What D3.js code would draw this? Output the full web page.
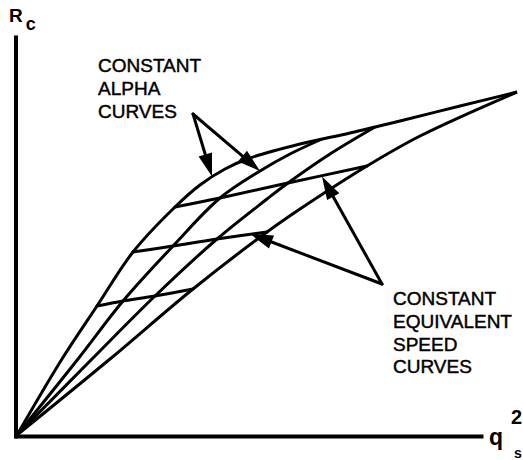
<!DOCTYPE html>
<html>
<head>
<meta charset="utf-8">
<script src="https://cdn.jsdelivr.net/npm/d3@7/dist/d3.min.js"></script>
<style>
  html, body { margin: 0; padding: 0; background: #fff; }
  svg { display: block; }
  text { font-family: "Liberation Sans", Arial, Helvetica, sans-serif; fill: #000; }
</style>
</head>
<body>
<script>
// R_c versus q_s^2 in arbitrary units (0-100 on both axes)

// Constant alpha curves, all starting at the origin
const alphaCurve1 = [[0,0],[9,19],[16,32.25],[23.2,45.75],[31.6,57],[36.6,62.5],[41.6,66.5],[46.6,69.25],[56.6,72.75],[66.6,75.5],[76.6,78.5],[88.6,82.25],[100,85.75]];
const alphaCurve2 = [[0,0],[12.2,19],[21.2,33.5],[31.2,47.25],[40.6,59.25],[48.6,66],[54.6,70.25],[61,74]];
const alphaCurve3 = [[0,0],[15,19],[27.6,34.75],[40,49],[50,59],[54.2,63],[62.6,70.25],[71.6,77]];
const alphaCurve4 = [[0,0],[18.6,19],[35.2,36.5],[50,50.75],[56.6,56.5],[70,67.25],[80.6,74.75],[100,85.75]];
const alphaCurves = [alphaCurve1, alphaCurve2, alphaCurve3, alphaCurve4];

// Constant equivalent speed curves, crossing the alpha curves
const speedCurve1 = [[31.6,57],[40.6,59.25],[54.2,63],[70,67.25]];
const speedCurve2 = [[23.2,45.75],[31.2,47.25],[40,49],[50,50.75]];
const speedCurve3 = [[16,32.25],[21.2,33.5],[27.6,34.75],[35.2,36.5]];
const speedCurves = [speedCurve1, speedCurve2, speedCurve3];

// Callout labels and their pointer arrows
const alphaLabel = ["CONSTANT", "ALPHA", "CURVES"];
const alphaLabelAt = [16.2, 90.75];
const alphaArrowFrom = [35.2, 80.25];
const alphaArrowTo = [[39, 64.6], [48.6, 66]];

const speedLabel = ["CONSTANT", "EQUIVALENT", "SPEED", "CURVES"];
const speedLabelAt = [75.2, 32.5];
const speedArrowFrom = [73, 37.75];
const speedArrowTo = [[61, 64.6], [46.6, 50.3]];

const xAxisMax = 93.2;
const yAxisMax = 100;

const width = 523, height = 460;
const svg = d3.select("body").append("svg")
  .attr("width", width).attr("height", height);

const x = d3.scaleLinear().domain([0, 100]).range([17, 517]);
const y = d3.scaleLinear().domain([0, 100]).range([435, 35]);

// Axes: heavy lines without ticks
const xAxisScale = x.copy().domain([0, xAxisMax]).range([x(0) - 3, x(xAxisMax)]);
const yAxisScale = y.copy().domain([0, yAxisMax]).range([y(0) + 3, y(yAxisMax)]);

svg.append("g")
  .attr("transform", `translate(0,${y(0) + 1})`)
  .call(d3.axisBottom(xAxisScale).tickValues([]).tickSizeOuter(0))
  .call(g => g.select(".domain").attr("stroke", "#000").attr("stroke-width", 4));

svg.append("g")
  .attr("transform", `translate(${x(0) - 1.5},0)`)
  .call(d3.axisLeft(yAxisScale).tickValues([]).tickSizeOuter(0))
  .call(g => g.select(".domain").attr("stroke", "#000").attr("stroke-width", 4));

const line = d3.line()
  .x(d => x(d[0]))
  .y(d => y(d[1]))
  .curve(d3.curveCatmullRom.alpha(0.5));

svg.append("g")
  .selectAll("path.alpha")
  .data(alphaCurves)
  .join("path")
  .attr("class", "alpha")
  .attr("d", line)
  .attr("fill", "none")
  .attr("stroke", "#000")
  .attr("stroke-width", 3)
  .attr("stroke-linejoin", "round");

svg.append("g")
  .selectAll("path.speed")
  .data(speedCurves)
  .join("path")
  .attr("class", "speed")
  .attr("d", line)
  .attr("fill", "none")
  .attr("stroke", "#000")
  .attr("stroke-width", 3)
  .attr("stroke-linecap", "round");

// Pointer arrows with solid triangular heads
function drawArrow(g, from, to) {
  const x0 = x(from[0]), y0 = y(from[1]);
  const x1 = x(to[0]), y1 = y(to[1]);
  const len = Math.hypot(x1 - x0, y1 - y0);
  const ux = (x1 - x0) / len, uy = (y1 - y0) / len;
  const headLen = 23, headHalf = 7;
  const bx = x1 - ux * headLen, by = y1 - uy * headLen;
  g.append("line")
    .attr("x1", x0).attr("y1", y0)
    .attr("x2", bx + ux * 2).attr("y2", by + uy * 2)
    .attr("stroke", "#000").attr("stroke-width", 3)
    .attr("stroke-linecap", "round");
  g.append("path")
    .attr("d", `M${x1},${y1}L${bx - uy * headHalf},${by + ux * headHalf}L${bx + uy * headHalf},${by - ux * headHalf}Z`)
    .attr("fill", "#000");
}

const arrows = svg.append("g");
alphaArrowTo.forEach(t => drawArrow(arrows, alphaArrowFrom, t));
speedArrowTo.forEach(t => drawArrow(arrows, speedArrowFrom, t));

// Callout text blocks
function drawLabel(lines, at) {
  svg.append("text")
    .attr("x", x(at[0]))
    .attr("y", y(at[1]))
    .attr("font-size", 19)
    .attr("stroke", "#000")
    .attr("stroke-width", 0.45)
    .selectAll("tspan")
    .data(lines)
    .join("tspan")
    .attr("x", x(at[0]))
    .attr("dy", (d, i) => i === 0 ? 0 : 22.8)
    .text(d => d);
}
drawLabel(alphaLabel, alphaLabelAt);
drawLabel(speedLabel, speedLabelAt);

// Axis titles
const yTitle = svg.append("text")
  .attr("x", 9).attr("y", 22)
  .attr("font-size", 19).attr("font-weight", "bold");
yTitle.append("tspan").text("R");
yTitle.append("tspan").attr("dy", 8).attr("dx", 3).attr("font-size", 18).text("c");

const xTitle = svg.append("text")
  .attr("x", 489).attr("y", 445)
  .attr("font-size", 23).attr("font-weight", "bold");
xTitle.append("tspan").text("q");
xTitle.append("tspan").attr("x", 511).attr("dy", -21).attr("font-size", 20).text("2");
xTitle.append("tspan").attr("x", 514).attr("dy", 34).attr("font-size", 14).text("s");
</script>
</body>
</html>
